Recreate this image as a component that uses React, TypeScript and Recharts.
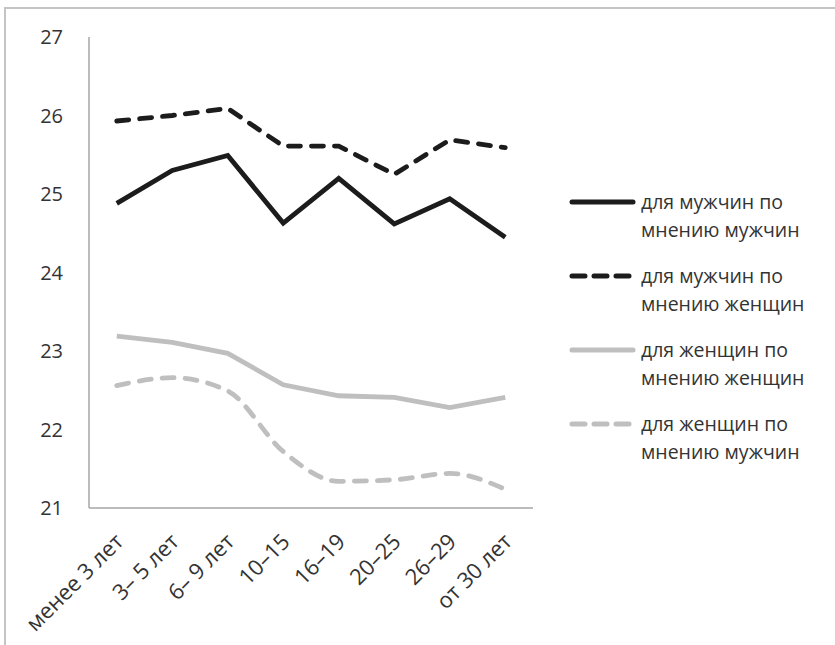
import React from "react";
import { LineChart, Line, XAxis, YAxis, Legend } from "recharts";

const categories = ["менее 3 лет", "3– 5 лет", "6– 9 лет", "10–15", "16–19", "20–25", "26–29", "от 30 лет"];
const menByMen = [24.88, 25.3, 25.49, 24.63, 25.2, 24.62, 24.94, 24.45];
const menByWomen = [25.93, 26.0, 26.09, 25.61, 25.61, 25.25, 25.69, 25.59];
const womenByWomen = [23.19, 23.11, 22.97, 22.57, 22.43, 22.41, 22.28, 22.41];
const womenByMen = [22.56, 22.66, 22.49, 21.72, 21.34, 21.36, 21.44, 21.24];
const yTicks = [21, 22, 23, 24, 25, 26, 27];

const seriesNames = [
    ["для мужчин по", "мнению мужчин"],
    ["для мужчин по", "мнению женщин"],
    ["для женщин по", "мнению женщин"],
    ["для женщин по", "мнению мужчин"],
];

const data = categories.map((cat, i) => ({
    cat,
    s1: menByMen[i],
    s2: menByWomen[i],
    s3: womenByWomen[i],
    s4: womenByMen[i],
}));

const FONT = "'Open Sans', sans-serif";
const TEXT = "#333333";
const AXIS = "#a6a6a6";
const DARK = "#1c1c1c";
const LIGHT = "#bfbfbf";

const legendStyles = [
    { color: DARK, dash: undefined },
    { color: DARK, dash: "13 9" },
    { color: LIGHT, dash: undefined },
    { color: LIGHT, dash: "13 9" },
];

const XTick = (props: any) => {
    const { x, y, payload } = props;
    return (
        <g transform={`translate(${x + 8},${y + 35})`}>
            <text textAnchor="end" transform="rotate(-45)" fontSize={22} fill={TEXT} fontFamily={FONT}>
                {payload.value}
            </text>
        </g>
    );
};

const renderLegend = () => (
    <div style={{ fontFamily: FONT, fontSize: 19.5, color: TEXT }}>
        {seriesNames.map((lines, i) => (
            <div key={i} style={{ display: "flex", alignItems: "flex-start", height: 74 }}>
                <svg width={72} height={28} style={{ flexShrink: 0 }}>
                    <line
                        x1={3}
                        x2={64}
                        y1={14}
                        y2={14}
                        stroke={legendStyles[i].color}
                        strokeWidth={5}
                        strokeLinecap="round"
                        strokeDasharray={legendStyles[i].dash}
                    />
                </svg>
                <div style={{ lineHeight: "28px", whiteSpace: "nowrap" }}>
                    {lines[0]}
                    <br />
                    {lines[1]}
                </div>
            </div>
        ))}
    </div>
);

export default function App() {
    return (
        <div style={{ position: "absolute", left: 0, top: 0, width: 835, height: 645, background: "#fff" }}>
            <div
                style={{
                    position: "absolute",
                    left: 4,
                    top: 7,
                    right: 0,
                    bottom: 0,
                    borderTop: "2px solid #c4c4c4",
                    borderLeft: "2px solid #c4c4c4",
                }}
            />
            <div style={{ position: "absolute", left: 0, top: 0 }}>
                <LineChart width={835} height={645} data={data} margin={{ top: 37, right: 302, bottom: 0, left: 0 }}>
                    <XAxis
                        dataKey="cat"
                        height={137}
                        interval={0}
                        padding={{ left: 27.75, right: 27.75 }}
                        tickLine={false}
                        tickSize={0}
                        tickMargin={0}
                        axisLine={{ stroke: AXIS, strokeWidth: 1.5 }}
                        tick={<XTick />}
                    />
                    <YAxis
                        width={89}
                        domain={[21, 27]}
                        ticks={yTicks}
                        interval={0}
                        tickLine={false}
                        tickSize={0}
                        tickMargin={26}
                        axisLine={{ stroke: AXIS, strokeWidth: 1.5 }}
                        tick={{ fontSize: 20, fill: TEXT, fontFamily: FONT }}
                    />
                    <Legend
                        layout="vertical"
                        align="center"
                        verticalAlign="middle"
                        wrapperStyle={{ position: "absolute", left: 569, top: 188, width: 260 }}
                        content={renderLegend}
                    />
                    <Line dataKey="s1" stroke={DARK} strokeWidth={4.8} dot={false} isAnimationActive={false} />
                    <Line
                        dataKey="s2"
                        stroke={DARK}
                        strokeWidth={4.8}
                        strokeDasharray="12 11"
                        strokeLinecap="round"
                        dot={false}
                        isAnimationActive={false}
                    />
                    <Line dataKey="s3" stroke={LIGHT} strokeWidth={4.8} dot={false} isAnimationActive={false} />
                    <Line
                        type="monotone"
                        dataKey="s4"
                        stroke={LIGHT}
                        strokeWidth={4.8}
                        strokeDasharray="12 11"
                        strokeLinecap="round"
                        dot={false}
                        isAnimationActive={false}
                    />
                </LineChart>
            </div>
        </div>
    );
}
